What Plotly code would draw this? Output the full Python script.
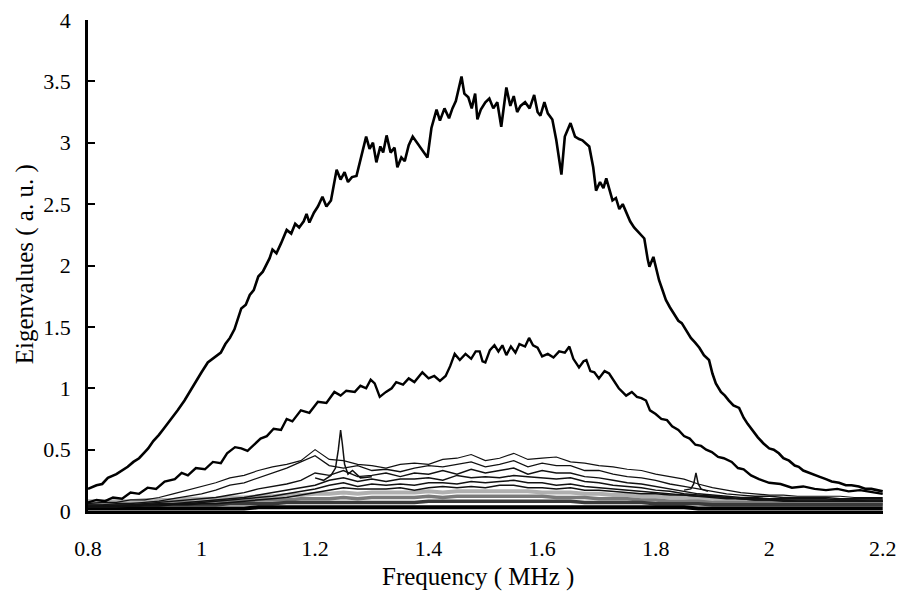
import plotly.graph_objects as go

# ---------------- data ----------------
# Largest eigenvalue
A_x = [0.800,0.815,0.825,0.835,0.850,0.860,0.870,0.880,0.890,0.900,0.906,0.915,0.925,0.935,0.945,0.958,0.970,0.980,0.988,1.000,
       1.011,1.020,1.034,1.042,1.050,1.058,1.064,1.070,1.078,1.085,1.092,1.100,1.108,1.115,1.120,1.125,1.132,1.140,1.150,1.158,
       1.165,1.172,1.180,1.185,1.190,1.198,1.205,1.213,1.220,1.228,1.238,1.245,1.252,1.258,1.265,1.273,1.282,1.290,1.296,1.302,
       1.308,1.315,1.320,1.326,1.333,1.340,1.345,1.352,1.358,1.365,1.372,1.380,1.388,1.398,1.405,1.414,1.420,1.428,1.436,1.442,
       1.448,1.454,1.458,1.463,1.470,1.476,1.482,1.486,1.492,1.500,1.507,1.514,1.521,1.528,1.533,1.537,1.544,1.550,1.556,1.562,
       1.570,1.578,1.586,1.592,1.597,1.604,1.610,1.618,1.625,1.630,1.634,1.640,1.650,1.658,1.665,1.671,1.678,1.683,1.690,1.695,
       1.702,1.708,1.713,1.720,1.724,1.730,1.736,1.742,1.748,1.755,1.762,1.770,1.780,1.786,1.789,1.796,1.802,1.806,1.812,1.818,
       1.825,1.832,1.840,1.846,1.854,1.862,1.870,1.877,1.885,1.894,1.900,1.906,1.915,1.922,1.929,1.937,1.947,1.955,1.962,1.970,
       1.980,1.990,2.000,2.008,2.017,2.025,2.035,2.045,2.052,2.060,2.070,2.080,2.088,2.100,2.110,2.123,2.135,2.145,2.158,2.170,
       2.180,2.190,2.200]
A_y = [0.18,0.21,0.22,0.27,0.30,0.33,0.36,0.40,0.43,0.48,0.51,0.57,0.62,0.68,0.74,0.82,0.90,0.98,1.04,1.13,
       1.21,1.24,1.29,1.36,1.41,1.48,1.56,1.65,1.68,1.76,1.80,1.91,1.95,2.02,2.06,2.13,2.10,2.18,2.29,2.26,
       2.34,2.31,2.36,2.42,2.35,2.43,2.48,2.56,2.48,2.53,2.78,2.70,2.76,2.68,2.72,2.73,2.90,3.05,2.95,3.00,
       2.84,2.97,2.92,3.06,2.92,2.96,2.80,2.88,2.85,2.98,3.05,3.00,2.95,2.88,3.12,3.27,3.18,3.28,3.20,3.28,
       3.34,3.45,3.54,3.40,3.37,3.28,3.40,3.19,3.27,3.33,3.36,3.28,3.33,3.13,3.30,3.45,3.30,3.38,3.25,3.30,
       3.33,3.28,3.39,3.25,3.22,3.33,3.24,3.19,3.02,2.85,2.74,3.05,3.16,3.05,3.03,3.02,2.99,2.97,2.80,2.61,
       2.68,2.63,2.71,2.60,2.53,2.55,2.46,2.50,2.43,2.36,2.31,2.27,2.22,2.05,1.99,2.07,1.95,1.88,1.80,1.72,
       1.66,1.61,1.55,1.53,1.47,1.41,1.37,1.33,1.27,1.23,1.12,1.04,0.97,0.94,0.90,0.86,0.84,0.76,0.71,0.66,
       0.60,0.55,0.51,0.50,0.47,0.43,0.41,0.37,0.36,0.33,0.31,0.29,0.28,0.26,0.24,0.23,0.21,0.21,0.20,0.18,
       0.18,0.17,0.16]

# Second eigenvalue
B_x = [0.800,0.815,0.830,0.844,0.860,0.875,0.890,0.905,0.920,0.935,0.953,0.965,0.976,0.990,1.006,1.020,1.034,1.045,1.059,1.070,
       1.081,1.092,1.104,1.115,1.127,1.140,1.150,1.160,1.175,1.190,1.205,1.220,1.234,1.245,1.255,1.270,1.280,1.290,1.298,1.305,
       1.314,1.325,1.335,1.343,1.355,1.365,1.375,1.389,1.400,1.410,1.420,1.430,1.438,1.446,1.455,1.465,1.475,1.483,1.490,1.495,
       1.500,1.508,1.516,1.523,1.530,1.537,1.545,1.553,1.560,1.570,1.577,1.584,1.592,1.600,1.610,1.620,1.630,1.640,1.648,1.655,
       1.665,1.673,1.678,1.685,1.692,1.700,1.710,1.718,1.725,1.735,1.748,1.758,1.767,1.775,1.783,1.790,1.800,1.810,1.820,1.829,
       1.840,1.850,1.860,1.870,1.880,1.889,1.899,1.910,1.920,1.934,1.945,1.955,1.968,1.982,2.000,2.020,2.040,2.060,2.080,2.100,
       2.120,2.140,2.160,2.190,2.200]
B_y = [0.07,0.09,0.08,0.11,0.10,0.15,0.14,0.19,0.18,0.24,0.26,0.31,0.29,0.35,0.34,0.40,0.39,0.47,0.52,0.51,
       0.49,0.54,0.59,0.61,0.67,0.66,0.75,0.73,0.82,0.80,0.89,0.88,0.97,0.94,0.98,0.97,1.02,1.00,1.07,1.04,
       0.93,0.97,1.00,1.05,1.03,1.08,1.05,1.13,1.08,1.10,1.06,1.10,1.18,1.28,1.23,1.28,1.24,1.30,1.30,1.22,
       1.21,1.31,1.35,1.30,1.35,1.27,1.34,1.29,1.36,1.34,1.41,1.35,1.33,1.26,1.28,1.25,1.30,1.29,1.34,1.24,
       1.17,1.22,1.23,1.14,1.13,1.08,1.14,1.12,1.07,1.00,0.94,0.97,0.93,0.92,0.90,0.82,0.79,0.75,0.74,0.69,
       0.66,0.61,0.59,0.54,0.53,0.50,0.48,0.44,0.43,0.40,0.35,0.34,0.29,0.26,0.23,0.22,0.19,0.20,0.18,0.17,
       0.18,0.16,0.17,0.15,0.14]

# Common frequency grid for the smaller eigenvalues
FREQ = [0.800,0.825,0.850,0.875,0.900,0.925,0.950,0.975,1.000,1.025,
        1.050,1.075,1.100,1.125,1.150,1.175,1.200,1.225,1.250,1.275,
        1.300,1.325,1.350,1.375,1.400,1.425,1.450,1.475,1.500,1.525,
        1.550,1.575,1.600,1.625,1.650,1.675,1.700,1.725,1.750,1.775,
        1.800,1.825,1.850,1.875,1.900,1.925,1.950,1.975,2.000,2.025,
        2.050,2.075,2.100,2.125,2.150,2.175,2.200]

C_y = [0.06,0.07,0.07,0.09,0.09,0.11,0.14,0.17,0.20,0.23,
       0.27,0.29,0.33,0.36,0.38,0.41,0.50,0.42,0.41,0.38,
       0.37,0.35,0.38,0.39,0.38,0.42,0.43,0.46,0.41,0.43,
       0.47,0.42,0.43,0.44,0.40,0.39,0.37,0.36,0.34,0.33,
       0.30,0.28,0.26,0.22,0.19,0.17,0.15,0.14,0.13,0.13,
       0.12,0.12,0.12,0.12,0.11,0.11,0.11]
D_y = [0.05,0.05,0.06,0.06,0.07,0.08,0.10,0.12,0.14,0.17,
       0.21,0.23,0.27,0.31,0.35,0.40,0.45,0.37,0.35,0.37,
       0.33,0.34,0.32,0.35,0.37,0.36,0.38,0.40,0.36,0.38,
       0.41,0.36,0.39,0.37,0.37,0.33,0.33,0.30,0.28,0.27,
       0.25,0.22,0.20,0.18,0.16,0.14,0.13,0.12,0.12,0.11,
       0.11,0.11,0.11,0.10,0.10,0.10,0.10]
E_y = [0.04,0.04,0.05,0.05,0.06,0.07,0.08,0.09,0.10,0.11,
       0.13,0.15,0.18,0.20,0.22,0.25,0.31,0.29,0.33,0.28,
       0.29,0.31,0.28,0.31,0.30,0.33,0.30,0.34,0.31,0.33,
       0.35,0.30,0.33,0.31,0.31,0.28,0.27,0.25,0.23,0.22,
       0.20,0.18,0.16,0.14,0.13,0.12,0.11,0.11,0.10,0.10,
       0.10,0.10,0.10,0.09,0.09,0.09,0.09]
F_y = [0.04,0.04,0.04,0.05,0.05,0.06,0.06,0.07,0.08,0.09,
       0.10,0.11,0.13,0.15,0.17,0.19,0.21,0.25,0.27,0.24,
       0.26,0.24,0.26,0.26,0.27,0.25,0.29,0.27,0.28,0.27,
       0.29,0.28,0.27,0.26,0.27,0.24,0.23,0.21,0.20,0.19,
       0.17,0.16,0.14,0.13,0.12,0.11,0.10,0.10,0.10,0.09,
       0.09,0.09,0.09,0.09,0.09,0.08,0.08]
G_y = [0.03,0.04,0.04,0.04,0.05,0.05,0.06,0.06,0.07,0.08,
       0.09,0.10,0.11,0.12,0.14,0.16,0.18,0.21,0.23,0.20,
       0.22,0.21,0.22,0.21,0.23,0.23,0.22,0.24,0.23,0.24,
       0.25,0.23,0.23,0.21,0.22,0.20,0.19,0.18,0.17,0.16,
       0.15,0.14,0.13,0.12,0.11,0.10,0.10,0.09,0.09,0.09,
       0.08,0.08,0.08,0.08,0.08,0.08,0.08]
H_y = [0.03,0.03,0.03,0.04,0.04,0.04,0.05,0.05,0.06,0.06,
       0.07,0.08,0.09,0.10,0.11,0.13,0.15,0.17,0.19,0.18,
       0.18,0.18,0.19,0.17,0.19,0.20,0.19,0.20,0.19,0.21,
       0.21,0.19,0.19,0.18,0.19,0.17,0.17,0.16,0.15,0.14,
       0.14,0.13,0.13,0.12,0.12,0.11,0.10,0.09,0.09,0.08,
       0.08,0.08,0.08,0.08,0.08,0.08,0.08]

# Dense band of the smallest eigenvalues
BAND1_y = [0.02,0.02,0.02,0.02,0.02,0.02,0.02,0.02,0.02,0.02,
           0.02,0.02,0.03,0.03,0.03,0.03,0.03,0.03,0.03,0.03,
           0.03,0.03,0.03,0.03,0.03,0.03,0.03,0.03,0.03,0.03,
           0.03,0.03,0.03,0.03,0.03,0.03,0.03,0.03,0.03,0.03,
           0.03,0.03,0.03,0.02,0.02,0.02,0.02,0.02,0.02,0.02,
           0.02,0.02,0.02,0.02,0.02,0.02,0.02]
BAND2_y = [0.04,0.04,0.04,0.04,0.05,0.05,0.05,0.05,0.05,0.05,
           0.06,0.06,0.06,0.06,0.07,0.07,0.07,0.07,0.07,0.07,
           0.07,0.07,0.07,0.07,0.08,0.08,0.08,0.08,0.08,0.08,
           0.08,0.08,0.08,0.08,0.08,0.07,0.07,0.07,0.07,0.07,
           0.06,0.06,0.06,0.06,0.05,0.05,0.05,0.05,0.05,0.05,
           0.05,0.05,0.05,0.05,0.05,0.05,0.05]
BAND3_y = [0.06,0.06,0.06,0.06,0.06,0.07,0.07,0.07,0.07,0.08,
           0.08,0.08,0.09,0.09,0.09,0.10,0.10,0.10,0.11,0.10,
           0.11,0.11,0.11,0.11,0.12,0.11,0.12,0.12,0.12,0.12,
           0.12,0.12,0.12,0.11,0.11,0.11,0.10,0.10,0.10,0.09,
           0.09,0.08,0.08,0.08,0.07,0.07,0.07,0.07,0.07,0.07,
           0.07,0.07,0.06,0.06,0.06,0.06,0.06]
BAND4_y = [0.08,0.08,0.08,0.08,0.09,0.09,0.09,0.10,0.10,0.10,
           0.11,0.11,0.12,0.12,0.13,0.13,0.14,0.14,0.15,0.14,
           0.15,0.15,0.15,0.15,0.16,0.15,0.16,0.16,0.16,0.16,
           0.16,0.16,0.15,0.15,0.15,0.14,0.14,0.13,0.13,0.12,
           0.12,0.11,0.11,0.10,0.10,0.09,0.09,0.09,0.09,0.08,
           0.08,0.08,0.08,0.08,0.08,0.08,0.08]

# Narrow spikes near 1.245 MHz and 1.87 MHz
S_x = [1.200,1.215,1.228,1.236,1.241,1.245,1.248,1.252,1.258,1.266,1.280,1.300]
S_y = [0.27,0.25,0.29,0.35,0.50,0.66,0.55,0.38,0.30,0.33,0.27,0.28]
S2_x = [1.850,1.862,1.867,1.871,1.875,1.880,1.892]
S2_y = [0.17,0.18,0.22,0.31,0.22,0.18,0.16]

X_TICKS = [0.8, 1.0, 1.2, 1.4, 1.6, 1.8, 2.0, 2.2]
X_TICK_TEXT = ["0.8", "1", "1.2", "1.4", "1.6", "1.8", "2", "2.2"]
Y_TICKS = [0, 0.5, 1, 1.5, 2, 2.5, 3, 3.5, 4]
Y_TICK_TEXT = ["0", "0.5", "1", "1.5", "2", "2.5", "3", "3.5", "4"]
X_TITLE = "Frequency ( MHz )"
Y_TITLE = "Eigenvalues ( a. u. )"

# ---------------- figure ----------------
fig = go.Figure()

bands = [(BAND4_y, "#b0b0b0", 4), (BAND3_y, "#7a7a7a", 3.5), (BAND2_y, "#3a3a3a", 3.5), (BAND1_y, "#000000", 4)]
for ys, col, w in bands:
    fig.add_trace(go.Scatter(x=FREQ, y=ys, mode="lines", line=dict(color=col, width=w)))

for ys, w in [(H_y, 1.5), (G_y, 1.5), (F_y, 1.5), (E_y, 1.4), (D_y, 1.3), (C_y, 1.2)]:
    fig.add_trace(go.Scatter(x=FREQ, y=ys, mode="lines", line=dict(color="#111111", width=w)))

fig.add_trace(go.Scatter(x=S_x, y=S_y, mode="lines", line=dict(color="#111111", width=1.5)))
fig.add_trace(go.Scatter(x=S2_x, y=S2_y, mode="lines", line=dict(color="#111111", width=1.5)))
fig.add_trace(go.Scatter(x=B_x, y=B_y, mode="lines", line=dict(color="#000000", width=2.4)))
fig.add_trace(go.Scatter(x=A_x, y=A_y, mode="lines", line=dict(color="#000000", width=2.6)))

serif = "Liberation Serif, Times New Roman, serif"
fig.update_layout(
    width=897, height=591,
    margin=dict(l=88, r=14, t=20, b=80),
    paper_bgcolor="white", plot_bgcolor="white",
    showlegend=False,
    font=dict(family=serif, size=22, color="black"),
    xaxis=dict(
        range=[0.8, 2.2005], tickvals=X_TICKS, ticktext=X_TICK_TEXT,
        showgrid=False, zeroline=False, showline=True, linecolor="black", linewidth=3,
        ticks="", ticklabelstandoff=16, ticklabeloverflow="allow", automargin=False,
        tickfont=dict(family=serif, size=22, color="black"),
    ),
    yaxis=dict(
        range=[0, 4], tickvals=Y_TICKS, ticktext=Y_TICK_TEXT,
        showgrid=False, zeroline=False, showline=True, linecolor="black", linewidth=2.5,
        ticks="inside", ticklen=7, tickwidth=2, tickcolor="black", ticklabelstandoff=10,
        automargin=False,
        tickfont=dict(family=serif, size=22, color="black"),
    ),
    annotations=[
        dict(text=X_TITLE, xref="paper", yref="paper", x=0.49, y=-0.134,
             xanchor="center", yanchor="middle", showarrow=False,
             font=dict(family=serif, size=25, color="black")),
        dict(text=Y_TITLE, xref="paper", yref="paper", x=-0.079, y=0.503, textangle=-90,
             xanchor="center", yanchor="middle", showarrow=False,
             font=dict(family=serif, size=25, color="black")),
    ],
)

fig.write_html("out.html")
